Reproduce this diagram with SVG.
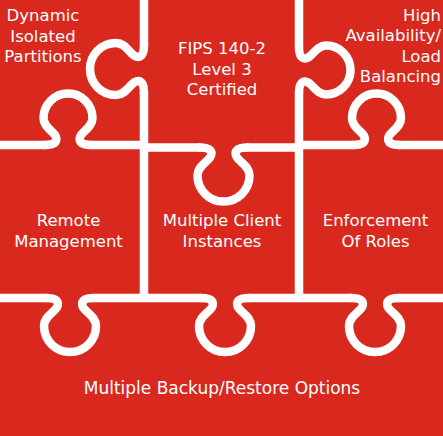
<svg xmlns="http://www.w3.org/2000/svg" xmlns:xlink="http://www.w3.org/1999/xlink" width="443" height="436" viewBox="0 0 443 436">
  <style>
    .bg { fill: #D9291E; }
    .gap { fill: none; stroke: #FFFFFF; stroke-width: 8.5; stroke-linecap: round; stroke-linejoin: round; }
    .lbl { fill: #FFFFFF; font-family: "DejaVu Sans", "Liberation Sans", sans-serif; font-size: 16.5px; }
    .c { text-anchor: middle; }
    .r { text-anchor: end; }
  </style>
  <defs>
    <path id="tabL" d="M -24 0 C -13 0 -10 4 -13.5 10 C -17.5 15.5 -26 19 -26 28 A 26 26 0 0 0 26 28 C 26 19 17.5 15.5 13.5 10 C 10 4 13 0 24 0"/>
    <path id="tabS" d="M -23 0 C -12.5 0 -9.5 4 -13 10 C -17 15 -24.5 19 -24.5 27 A 24.5 24.5 0 0 0 24.5 27 C 24.5 19 17 15 13 10 C 9.5 4 12.5 0 23 0"/>
  </defs>

  <rect class="bg" x="0" y="0" width="443" height="436"/>

  <g id="connectors" class="gap">
    <path d="M144 0 V45 M144 93 V298 M299 0 V47 M299 93 V298
             M0 298 H46 M94 298 H201 M249 298 H351 M399 298 H443
             M0 145 H45 M91 145 H144
             M144 147.5 H199.5 M247.5 147.5 H299
             M299 145 H353.5 M399.5 145 H443"/>
    <use xlink:href="#tabL" transform="translate(144,69) rotate(90)"/>
    <use xlink:href="#tabS" transform="translate(299,70) rotate(-90)"/>
    <use xlink:href="#tabS" transform="translate(68,145) rotate(180)"/>
    <use xlink:href="#tabL" transform="translate(223.5,147.5)"/>
    <use xlink:href="#tabS" transform="translate(376.5,145) rotate(180)"/>
    <use xlink:href="#tabL" transform="translate(70,298)"/>
    <use xlink:href="#tabL" transform="translate(225,298)"/>
    <use xlink:href="#tabL" transform="translate(375,298)"/>
  </g>

  <g id="node-dynamic">
    <text class="lbl c" x="43" y="21">Dynamic</text>
    <text class="lbl c" x="43" y="41.5">Isolated</text>
    <text class="lbl c" x="43" y="62">Partitions</text>
  </g>
  <g id="node-fips">
    <text class="lbl c" x="222" y="54">FIPS 140-2</text>
    <text class="lbl c" x="222" y="74.5">Level 3</text>
    <text class="lbl c" x="222" y="95">Certified</text>
  </g>
  <g id="node-ha">
    <text class="lbl r" x="441" y="21">High</text>
    <text class="lbl r" x="441" y="41">Availability/</text>
    <text class="lbl r" x="441" y="61.5">Load</text>
    <text class="lbl r" x="441" y="82">Balancing</text>
  </g>
  <g id="node-remote">
    <text class="lbl c" x="68.5" y="225.5">Remote</text>
    <text class="lbl c" x="68.5" y="246.5">Management</text>
  </g>
  <g id="node-client">
    <text class="lbl c" x="222" y="225.5">Multiple Client</text>
    <text class="lbl c" x="222" y="246.5">Instances</text>
  </g>
  <g id="node-roles">
    <text class="lbl c" x="375.5" y="225.5">Enforcement</text>
    <text class="lbl c" x="375.5" y="246.5">Of Roles</text>
  </g>
  <g id="node-backup">
    <text class="lbl c" x="222" y="394" style="font-size:17px">Multiple Backup/Restore Options</text>
  </g>
</svg>
